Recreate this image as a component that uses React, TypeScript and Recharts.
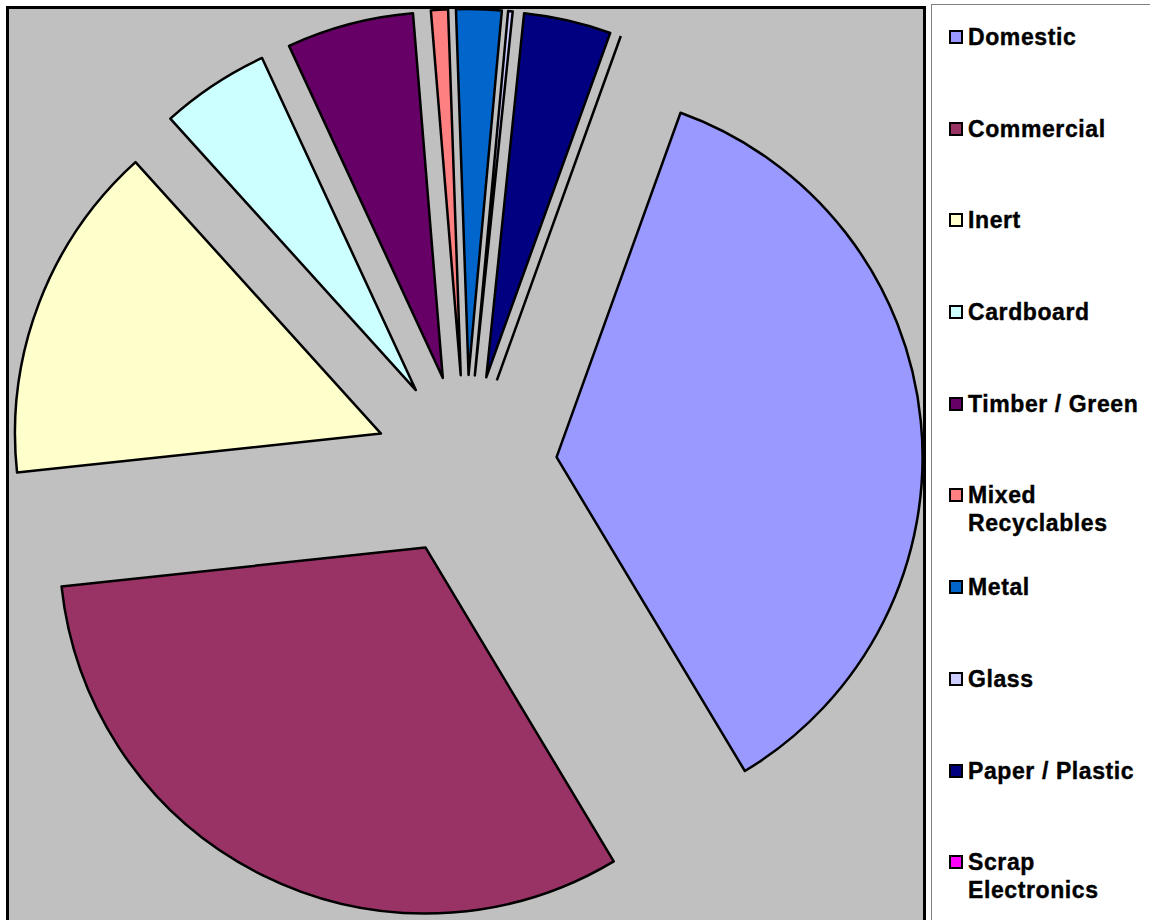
import React from "react";
import { PieChart, Pie, Sector, Legend } from "recharts";

const categories = [
  "Domestic",
  "Commercial",
  "Inert",
  "Cardboard",
  "Timber / Green",
  "Mixed Recyclables",
  "Metal",
  "Glass",
  "Paper / Plastic",
  "Scrap Electronics",
];
const shares = [35.9, 31.9, 15.0, 4.8, 5.6, 0.75, 2.0, 0.2, 3.85, 0];
const sliceColors = [
  "#9999FF",
  "#993366",
  "#FFFFCC",
  "#CCFFFF",
  "#660066",
  "#FF8080",
  "#0066CC",
  "#CCCCFF",
  "#000080",
  "#FF00FF",
];

const data = categories.map((name, i) => ({ name, value: shares[i] }));

const RADIAN = Math.PI / 180;
const EXPLODE = 91; // excel style 25% explosion

const renderSlice = (props: any) => {
  const { cx, cy, innerRadius, outerRadius, startAngle, endAngle, index } = props;
  const mid = (startAngle + endAngle) / 2;
  const ox = cx + EXPLODE * Math.cos(-mid * RADIAN);
  const oy = cy + EXPLODE * Math.sin(-mid * RADIAN);
  if (startAngle === endAngle) {
    // zero slice, excel still draws its edge
    return (
      <line
        x1={ox}
        y1={oy}
        x2={ox + outerRadius * Math.cos(-mid * RADIAN)}
        y2={oy + outerRadius * Math.sin(-mid * RADIAN)}
        stroke="#000"
        strokeWidth={2.5}
      />
    );
  }
  return (
    <Sector
      cx={ox}
      cy={oy}
      innerRadius={innerRadius}
      outerRadius={outerRadius}
      startAngle={startAngle}
      endAngle={endAngle}
      fill={sliceColors[index]}
      stroke="#000"
      strokeWidth={2.5}
      strokeLinejoin="round"
    />
  );
};

// keep the data order, recharts would sort the payload by name
const renderLegend = () => (
  <div style={{ paddingTop: 23 }}>
    {categories.map((label, i) => (
      <div key={label} style={{ height: 91.7, display: "flex", alignItems: "flex-start" }}>
        <div
          style={{
            width: 10,
            height: 10,
            marginTop: 7,
            marginLeft: 9,
            marginRight: 5,
            background: sliceColors[i],
            border: "2px solid #000",
            flexShrink: 0,
          }}
        />
        <div
          style={{
            width: 180,
            lineHeight: "28px",
            fontSize: 23,
            letterSpacing: 0.6,
            fontWeight: "bold",
            WebkitTextStroke: "0.4px #000",
          }}
        >
          {label}
        </div>
      </div>
    ))}
  </div>
);

export default function App() {
  return (
    <div
      style={{
        position: "absolute",
        left: 0,
        top: 0,
        width: 1150,
        height: 920,
        overflow: "hidden",
        background: "#fff",
        fontFamily: '"Liberation Sans", Arial, sans-serif',
        color: "#000",
      }}
    >
      <div
        style={{
          position: "absolute",
          left: 6,
          top: 6,
          width: 914,
          height: 940,
          background: "#C0C0C0",
          border: "3px solid #000",
        }}
      />
      <div
        style={{
          position: "absolute",
          left: 931,
          top: 4,
          width: 240,
          height: 940,
          border: "1px solid #808080",
        }}
      />
      <div style={{ position: "absolute", left: 0, top: 0 }}>
        <PieChart width={1150} height={920} margin={{ top: 0, right: 0, bottom: 0, left: 0 }}>
          <Pie
            data={data}
            dataKey="value"
            nameKey="name"
            cx={466}
            cy={466}
            outerRadius={366}
            startAngle={70.2}
            endAngle={-289.8}
            fill="none"
            stroke="none"
            label={renderSlice}
            labelLine={false}
            isAnimationActive={false}
          />
          <Legend
            layout="vertical"
            align="right"
            verticalAlign="top"
            content={renderLegend}
            wrapperStyle={{ left: 940, top: 0, width: 210 }}
          />
        </PieChart>
      </div>
    </div>
  );
}
